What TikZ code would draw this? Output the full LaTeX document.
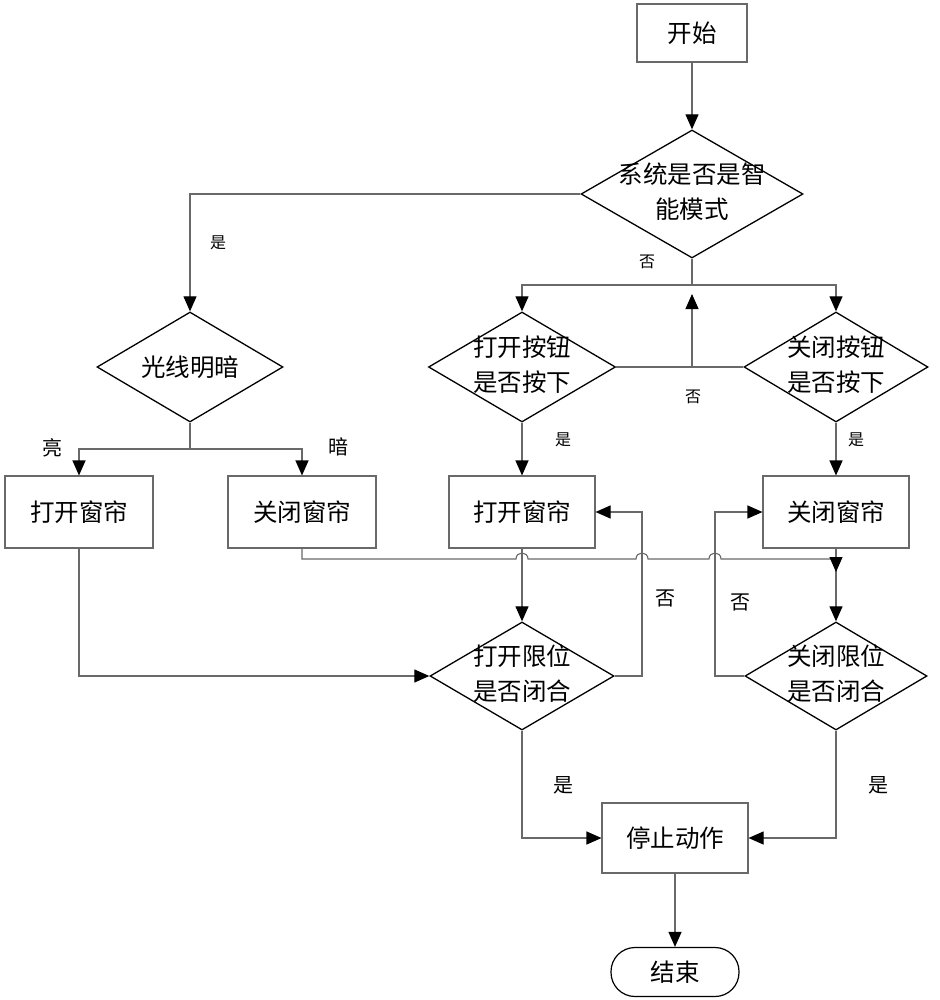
\documentclass[tikz,border=0pt]{standalone}
\usepackage{fontspec}
\newfontfamily\cjk{Noto Sans CJK SC}
\usetikzlibrary{shapes.geometric,arrows.meta}
\definecolor{lgray}{RGB}{105,105,105}
\begin{document}
\begin{tikzpicture}[x=1pt,y=-1pt,
  every node/.style={font=\cjk\fontsize{24.5}{35}\selectfont},
  box/.style={draw=lgray,line width=1.1pt,minimum width=146pt,minimum height=72pt,inner sep=0pt},
  dia/.style={draw=black,line width=1.3pt,shape=diamond,inner sep=0pt},
  txt/.style={align=center,inner sep=0pt},
  lbl/.style={inner sep=0pt,font=\cjk\fontsize{20}{24}\selectfont},
  slbl/.style={inner sep=0pt,font=\cjk\fontsize{16}{20}\selectfont},
  conn/.style={draw=lgray,line width=1.1pt,-{Triangle[length=15pt,width=13pt,color=black]}},
  line/.style={draw=lgray,line width=1.1pt}
]
\useasboundingbox (0,0) rectangle (939,1000);

% boxes
\node[box,minimum width=110pt,minimum height=58pt] (start) at (692,33) {开始};
\node[box,minimum width=148pt] (b1) at (79,512) {打开窗帘};
\node[box,minimum width=148pt] (b2) at (302,512) {关闭窗帘};
\node[box] (b3) at (522,512) {打开窗帘};
\node[box] (b4) at (836,512) {关闭窗帘};
\node[box,minimum height=70pt] (stop) at (675,838) {停止动作};
\node[draw=black,line width=1.2pt,rounded corners=24pt,minimum width=128pt,minimum height=49pt,inner sep=0pt] (end) at (675,972) {结束};

% diamonds
\node[dia,minimum width=222pt,minimum height=128pt] (d1) at (692,194) {};
\node[txt] (t1) at (692,192) {系统是否是智\\能模式};
\node[dia,minimum width=186pt,minimum height=110pt] (d2) at (190,367) {};
\node[txt] (t2) at (190,367) {光线明暗};
\node[dia,minimum width=187pt,minimum height=110pt] (d3) at (522,367) {};
\node[txt] (t3) at (522,365) {打开按钮\\是否按下};
\node[dia,minimum width=184pt,minimum height=110pt] (d4) at (836,367) {};
\node[txt] (t4) at (836,365) {关闭按钮\\是否按下};
\node[dia,minimum width=184pt,minimum height=108pt] (d5) at (522,676) {};
\node[txt] (t5) at (522,674) {打开限位\\是否闭合};
\node[dia,minimum width=182pt,minimum height=108pt] (d6) at (836,676) {};
\node[txt] (t6) at (836,674) {关闭限位\\是否闭合};

% helper coordinates
\coordinate (j1) at (692,285);
\coordinate (j1up) at (692,294);
\coordinate (mid) at (692,367);
\coordinate (j2) at (190,449);
\coordinate (lp1) at (642,512);
\coordinate (lp2) at (715,512);
\coordinate (hx) at (302,559);
\coordinate (hy) at (836,559);
\coordinate (htip) at (836,572);

% connectors
\draw[conn] (start.south) -- (d1.north);
\draw[conn] (d1.west) -| (d2.north);
\draw[line] (d1.south) -- (j1);
\draw[conn] (j1) -| (d3.north);
\draw[conn] (j1) -| (d4.north);
\draw[line] (d3.east) -- (d4.west);
\draw[conn] (mid) -- (j1up);
\draw[line] (d2.south) -- (j2);
\draw[conn] (j2) -| (b1.north);
\draw[conn] (j2) -| (b2.north);
\draw[conn] (d3.south) -- (b3.north);
\draw[conn] (d4.south) -- (b4.north);
\draw[conn] (b3.south) -- (d5.north);
\draw[conn] (b4.south) -- (d6.north);
\draw[conn] (b1.south) |- (d5.west);
\draw[conn] (d5.east) -| (lp1) -- (b3.east);
\draw[conn] (d6.west) -| (lp2) -- (b4.west);
\draw[line] (b2.south) -- (hx) -- (516,559) .. controls (516,551) and (528,551) .. (528,559)
  -- (636,559) .. controls (636,551) and (648,551) .. (648,559)
  -- (709,559) .. controls (709,551) and (721,551) .. (721,559) -- (hy);
\draw[conn] (hy) -- (htip);
\draw[conn] (d5.south) |- (stop.west);
\draw[conn] (d6.south) |- (stop.east);
\draw[conn] (stop.south) -- (end.north);

% labels
\node[slbl] (l1) at (218,243) {是};
\node[slbl] (l2) at (647,262) {否};
\node[slbl] (l3) at (693,397) {否};
\node[slbl] (l4) at (563,440) {是};
\node[slbl] (l5) at (856,440) {是};
\node[lbl] (l6) at (52,448) {亮};
\node[lbl] (l7) at (338,447) {暗};
\node[lbl] (l8) at (665,598) {否};
\node[lbl] (l9) at (740,602) {否};
\node[lbl] (l10) at (563,785) {是};
\node[lbl] (l11) at (878,785) {是};
\end{tikzpicture}
\end{document}
